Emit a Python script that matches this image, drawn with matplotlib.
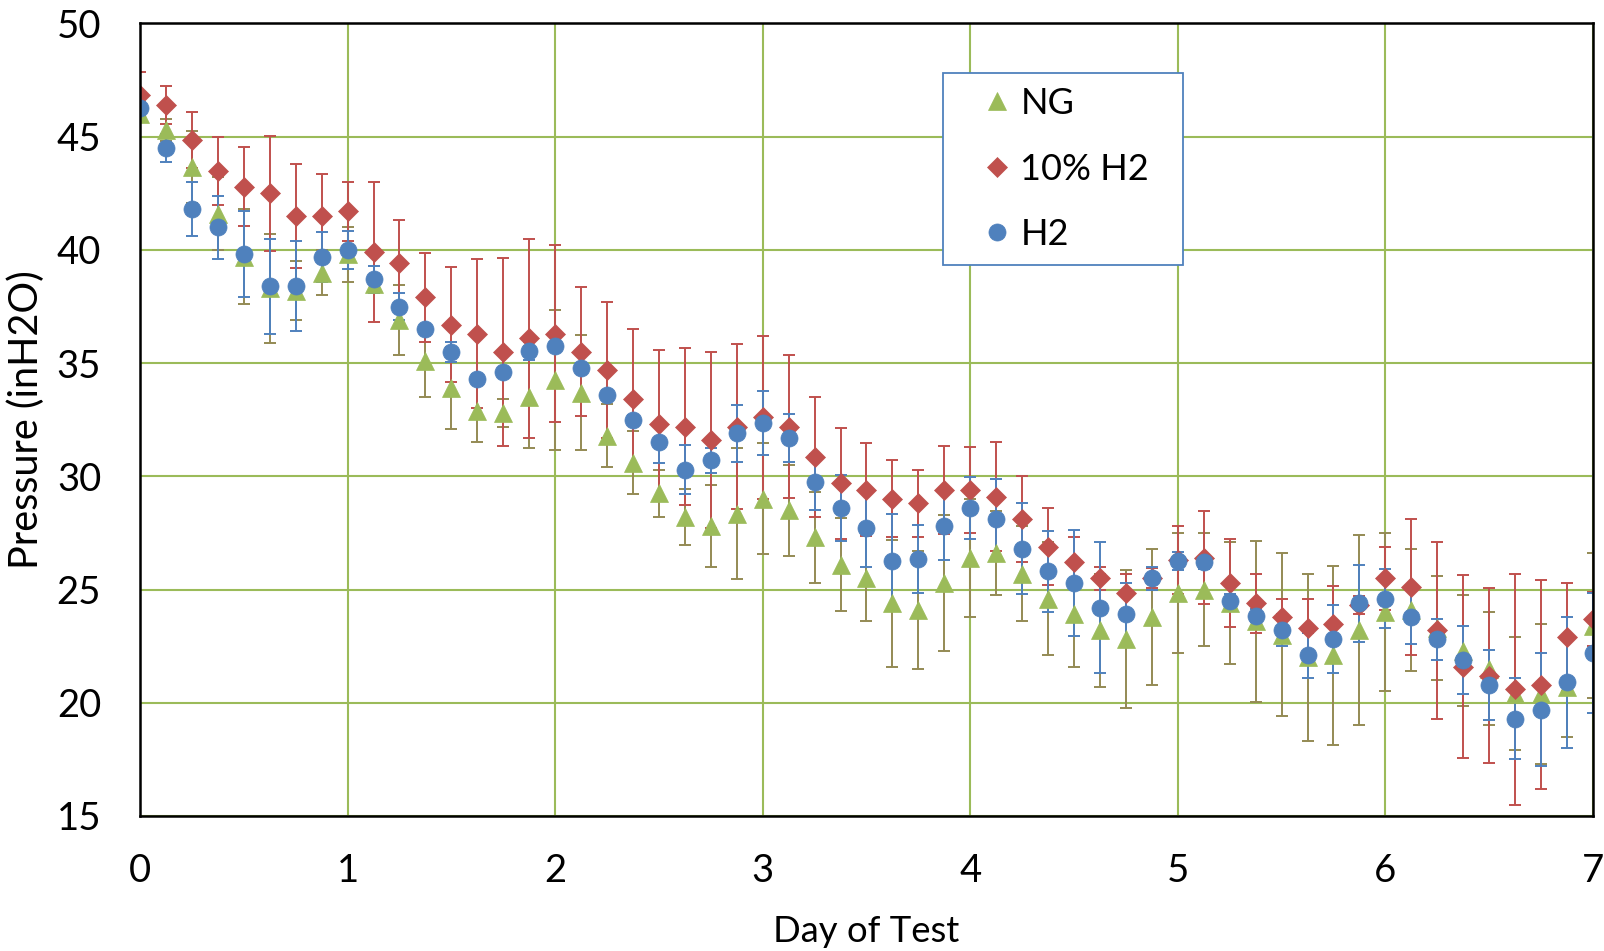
import matplotlib
matplotlib.use("Agg")
import matplotlib.pyplot as plt

days = [0, 0.125, 0.25, 0.375, 0.5, 0.625, 0.75, 0.875,
        1, 1.125, 1.25, 1.375, 1.5, 1.625, 1.75, 1.875,
        2, 2.125, 2.25, 2.375, 2.5, 2.625, 2.75, 2.875,
        3, 3.125, 3.25, 3.375, 3.5, 3.625, 3.75, 3.875,
        4, 4.125, 4.25, 4.375, 4.5, 4.625, 4.75, 4.875,
        5, 5.125, 5.25, 5.375, 5.5, 5.625, 5.75, 5.875,
        6, 6.125, 6.25, 6.375, 6.5, 6.625, 6.75, 6.875, 7]

ng = [46.0, 45.3, 43.65, 41.6, 39.7, 38.3, 38.2, 39.0, 39.8, 38.5,
      36.9, 35.1, 33.9, 32.9, 32.8, 33.5, 34.25, 33.7, 31.8, 30.6,
      29.25, 28.2, 27.8, 28.35, 29.0, 28.5, 27.3, 26.1, 25.5, 24.4,
      24.1, 25.3, 26.4, 26.6, 25.7, 24.6, 23.9, 23.2, 22.8, 23.8,
      24.85, 25.0, 24.4, 23.6, 23.0, 22.0, 22.1, 23.2, 24.0, 24.1,
      23.3, 22.3, 21.5, 20.4, 20.4, 20.7, 23.4]
ng_err = [0.2, 0.5, 1.6, 1.6, 2.1, 2.4, 1.3, 1.0, 1.2, 0.4,
          1.55, 1.6, 1.8, 1.4, 0.6, 2.25, 3.1, 2.55, 1.4, 1.4,
          1.05, 1.25, 1.8, 2.9, 2.45, 2.0, 2.0, 2.05, 1.9, 2.8,
          2.6, 3.0, 2.6, 1.85, 2.1, 2.5, 2.3, 2.5, 3.05, 3.0,
          2.65, 2.5, 2.7, 3.55, 3.6, 3.7, 3.95, 4.2, 3.5, 2.7,
          2.3, 2.45, 2.5, 2.5, 3.1, 2.2, 3.2]

h10 = [46.85, 46.4, 44.85, 43.5, 42.8, 42.5, 41.5, 41.5, 41.7, 39.9,
       39.4, 37.9, 36.7, 36.3, 35.5, 36.1, 36.3, 35.5, 34.7, 33.4,
       32.3, 32.2, 31.6, 32.2, 32.6, 32.2, 30.85, 29.7, 29.4, 29.0,
       28.8, 29.4, 29.4, 29.1, 28.1, 26.9, 26.2, 25.5, 24.85, 25.5,
       26.3, 26.4, 25.3, 24.4, 23.8, 23.3, 23.5, 24.3, 25.5, 25.1,
       23.2, 21.6, 21.2, 20.6, 20.8, 22.9, 23.7]
h10_err = [1.0, 0.85, 1.25, 1.5, 1.75, 2.55, 2.3, 1.85, 1.3, 3.1,
           1.9, 1.95, 2.55, 3.3, 4.15, 4.4, 3.9, 2.85, 3.0, 3.1,
           3.3, 3.45, 3.9, 3.65, 3.6, 3.15, 2.65, 2.45, 2.05, 1.7,
           1.5, 1.95, 1.9, 2.4, 1.9, 1.7, 1.1, 0.5, 0.85, 0.45,
           1.5, 2.05, 1.95, 1.3, 0.8, 1.3, 1.65, 0.4, 1.4, 3.0,
           3.9, 4.05, 3.85, 5.1, 4.6, 2.4, 1.2]

h2 = [46.25, 44.5, 41.8, 41.0, 39.8, 38.4, 38.4, 39.7, 40.0, 38.7,
      37.5, 36.5, 35.5, 34.3, 34.6, 35.55, 35.75, 34.8, 33.6, 32.5,
      31.5, 30.3, 30.7, 31.9, 32.35, 31.7, 29.75, 28.6, 27.7, 26.25,
      26.35, 27.8, 28.6, 28.1, 26.8, 25.8, 25.3, 24.2, 23.9, 25.5,
      26.25, 26.2, 24.5, 23.85, 23.2, 22.1, 22.8, 24.4, 24.6, 23.8,
      22.8, 21.9, 20.8, 19.3, 19.7, 20.9, 22.2]
h2_err = [0.3, 0.6, 1.2, 1.4, 1.9, 2.1, 2.0, 1.1, 0.85, 0.6,
          0.6, 0.2, 0.45, 0.2, 0.2, 0.4, 0.2, 0.2, 0.2, 0.2,
          0.9, 1.1, 0.55, 1.25, 1.4, 1.05, 1.25, 1.45, 1.7, 2.1,
          1.5, 1.5, 1.35, 1.8, 2.0, 1.8, 2.35, 2.9, 1.4, 0.5,
          0.4, 0.3, 0.3, 0.3, 0.7, 1.0, 1.5, 1.7, 1.3, 1.2,
          0.9, 1.5, 1.55, 1.8, 2.5, 2.9, 2.65]

series_labels = ["NG", "10% H2", "H2"]
x_ticks = [0, 1, 2, 3, 4, 5, 6, 7]
y_ticks = [15, 20, 25, 30, 35, 40, 45, 50]

plt.rcParams['font.family'] = ['Lato', 'DejaVu Sans']

fig = plt.figure(figsize=(16.04, 9.51), dpi=100)
ax = fig.add_axes([0.0873, 0.1420, 0.9058, 0.8333])

green = '#9BBB59'
olive = '#948A54'
red = '#C0504D'
blue = '#4F81BD'

eb_kw = dict(fmt='none', elinewidth=1.4, capsize=4.3, capthick=1.4, zorder=2)
ax.errorbar(days, ng, yerr=ng_err, ecolor=olive, **eb_kw)
ax.errorbar(days, h10, yerr=h10_err, ecolor=red, **eb_kw)
ax.errorbar(days, h2, yerr=h2_err, ecolor=blue, **eb_kw)

l1, = ax.plot(days, ng, linestyle='none', marker='^', ms=13, color=green,
              mec=green, mew=0.5, zorder=3, label=series_labels[0])
l2, = ax.plot(days, h10, linestyle='none', marker='D', ms=10.2, color=red,
              mec=red, mew=0.5, zorder=4, label=series_labels[1])
l3, = ax.plot(days, h2, linestyle='none', marker='o', ms=12.3, color=blue,
              mec=blue, mew=0.5, zorder=5, label=series_labels[2])

ax.set_xlim(0, 7)
ax.set_ylim(15, 50)
ax.set_xticks(x_ticks)
ax.set_yticks(y_ticks)
ax.grid(True, color=green, linewidth=1.5)
ax.set_axisbelow(True)
for sp in ax.spines.values():
    sp.set_color('black')
    sp.set_linewidth(1.8)
    sp.set_zorder(6)

ax.tick_params(axis='both', length=0, labelsize=27.5, colors='black')
ax.tick_params(axis='y', pad=28)
ax.tick_params(axis='x', pad=27)

ax.set_xlabel('Day of Test', fontsize=26.3, va='baseline')
ax.xaxis.set_label_coords(0.5, -0.159)
ax.set_ylabel('Pressure (inH2O)', fontsize=28.5, va='center')
ax.yaxis.set_label_coords(-0.0781, 0.5)

leg = ax.legend(handles=[l1, l2, l3], loc='upper left',
                bbox_to_anchor=(0.5527, 0.8375, 0.1652, 0.1),
                mode='expand', borderaxespad=0, fontsize=26,
                frameon=True, fancybox=False, borderpad=0.39,
                handlelength=2.2, handletextpad=-0.45, labelspacing=0.9,
                numpoints=1)
frame = leg.get_frame()
frame.set_edgecolor(blue)
frame.set_linewidth(1.3)
frame.set_facecolor('white')
frame.set_alpha(1)
leg.set_zorder(10)

fig.savefig('out.png', dpi=100)
